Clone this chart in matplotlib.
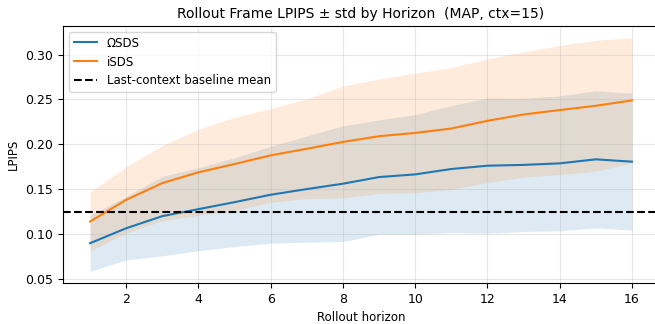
import numpy as np
import matplotlib
matplotlib.use("Agg")
import matplotlib.pyplot as plt

horizon = np.arange(1, 17)

omega_mean = [0.0896, 0.1063, 0.1198, 0.1276, 0.1354, 0.1437, 0.1500, 0.1560,
              0.1634, 0.1664, 0.1724, 0.1761, 0.1770, 0.1787, 0.1832, 0.1806]
omega_std = [0.0314, 0.0354, 0.0444, 0.0463, 0.0496, 0.0541, 0.0593, 0.0646,
             0.0638, 0.0668, 0.0709, 0.0754, 0.0744, 0.0753, 0.0765, 0.0765]

isds_mean = [0.1138, 0.1380, 0.1567, 0.1687, 0.1780, 0.1876, 0.1950, 0.2026,
             0.2090, 0.2127, 0.2176, 0.2262, 0.2333, 0.2382, 0.2430, 0.2490]
isds_std = [0.0330, 0.0370, 0.0420, 0.0480, 0.0520, 0.0524, 0.0556, 0.0624,
            0.0640, 0.0667, 0.0680, 0.0690, 0.0700, 0.0720, 0.0730, 0.0700]

baseline_mean = 0.1245

fig = plt.figure(figsize=(6.55, 3.24), dpi=100)
ax = fig.add_axes([63/655, 41/324, 596/655, 257/324])

for mean, std, label, col in [(omega_mean, omega_std, "ΩSDS", "C0"),
                              (isds_mean, isds_std, "iSDS", "C1")]:
    m = np.array(mean)
    s = np.array(std)
    ax.plot(horizon, m, color=col, label=label)
    ax.fill_between(horizon, m - s, m + s, color=col, alpha=0.15, linewidth=0)

ax.axhline(baseline_mean, color="k", linestyle="--", label="Last-context baseline mean")

ax.set_xticks([2, 4, 6, 8, 10, 12, 14, 16])
ax.set_xlabel("Rollout horizon", fontsize=8.5)
ax.set_ylabel("LPIPS", fontsize=8.5)
ax.set_title("Rollout Frame LPIPS ± std by Horizon  (MAP, ctx=15)", fontsize=10)
ax.tick_params(labelsize=9)
ax.grid(alpha=0.3)
ax.legend(loc="upper left", fontsize=8.5)

fig.savefig("out.png", dpi=100)
